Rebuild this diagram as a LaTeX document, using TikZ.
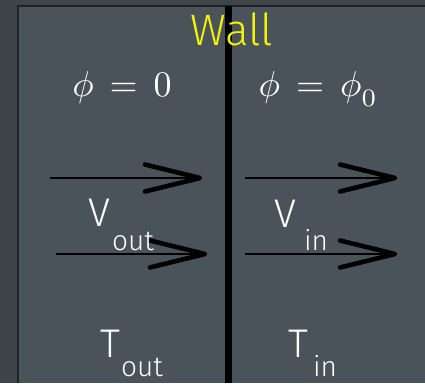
\documentclass[tikz,border=0pt]{standalone}
\usepackage{fontspec}
\newfontfamily\hand{Fira Sans Light}
\definecolor{outerbg}{HTML}{3D4549}
\definecolor{innerbg}{HTML}{4A5359}
\definecolor{edge}{HTML}{1E2326}
\definecolor{wallyellow}{HTML}{F2F20A}
\tikzset{
  shaft/.style={line width=2.6pt, black},
  head/.style={line width=4.6pt, black, line cap=round, line join=round},
  mathlbl/.style={text=white, inner sep=0pt, scale=3.6},
  handlbl/.style={text=white, inner sep=0pt, font=\hand\fontsize{40}{44}\selectfont},
  sublbl/.style={text=white, inner sep=0pt, font=\hand\fontsize{28}{32}\selectfont}
}
\begin{document}
\begin{tikzpicture}[x=1pt,y=-1pt]
\useasboundingbox (0,0) rectangle (425,383);
\fill[outerbg] (0,0) rectangle (425,383);
\fill[innerbg] (18,6) rectangle (425,383);
\draw[edge, line width=1.8pt] (18,383) -- (18,6) -- (425,6);
% wall
\coordinate (wt) at (228.5,6);
\coordinate (wb) at (228.5,383);
\draw[black, line width=7pt] (wt) -- (wb);
\node[text=wallyellow, inner sep=0pt, font=\hand\fontsize{44}{48}\selectfont] (wall) at (232,29) {Wall};
% potentials
\node[mathlbl, anchor=base] (phil) at (122,96) {$\phi\,=\,0$};
\node[mathlbl, anchor=base west] (phir) at (258,96) {$\phi\,=\,\phi_{\raisebox{-0.3ex}{$\scriptstyle 0$}}$};
% arrows
\coordinate (a1s) at (50,178); \coordinate (a1t) at (200,178);
\coordinate (a2s) at (56,254); \coordinate (a2t) at (205,254);
\coordinate (a3s) at (245,178); \coordinate (a3t) at (395,178);
\coordinate (a4s) at (245,254); \coordinate (a4t) at (395,254);
\foreach \s/\t in {a1s/a1t,a2s/a2t,a3s/a3t,a4s/a4t}{
  \draw[shaft] (\s) -- ([xshift=-6pt]\t);
  \draw[head] ([xshift=-55pt,yshift=-13.5pt]\t) -- (\t) -- ([xshift=-55pt,yshift=13.5pt]\t);
}
% velocity labels
\node[handlbl] (vo) at (99,213) {V};
\node[sublbl] (vos) at (133,241) {out};
\node[handlbl] (vi) at (285,214) {V};
\node[sublbl] (vis) at (316,240) {in};
% temperature labels
\node[handlbl] (to) at (110,344) {T};
\node[sublbl] (tos) at (142,367) {out};
\node[handlbl] (ti) at (298,344) {T};
\node[sublbl] (tis) at (325,366) {in};
\end{tikzpicture}
\end{document}
